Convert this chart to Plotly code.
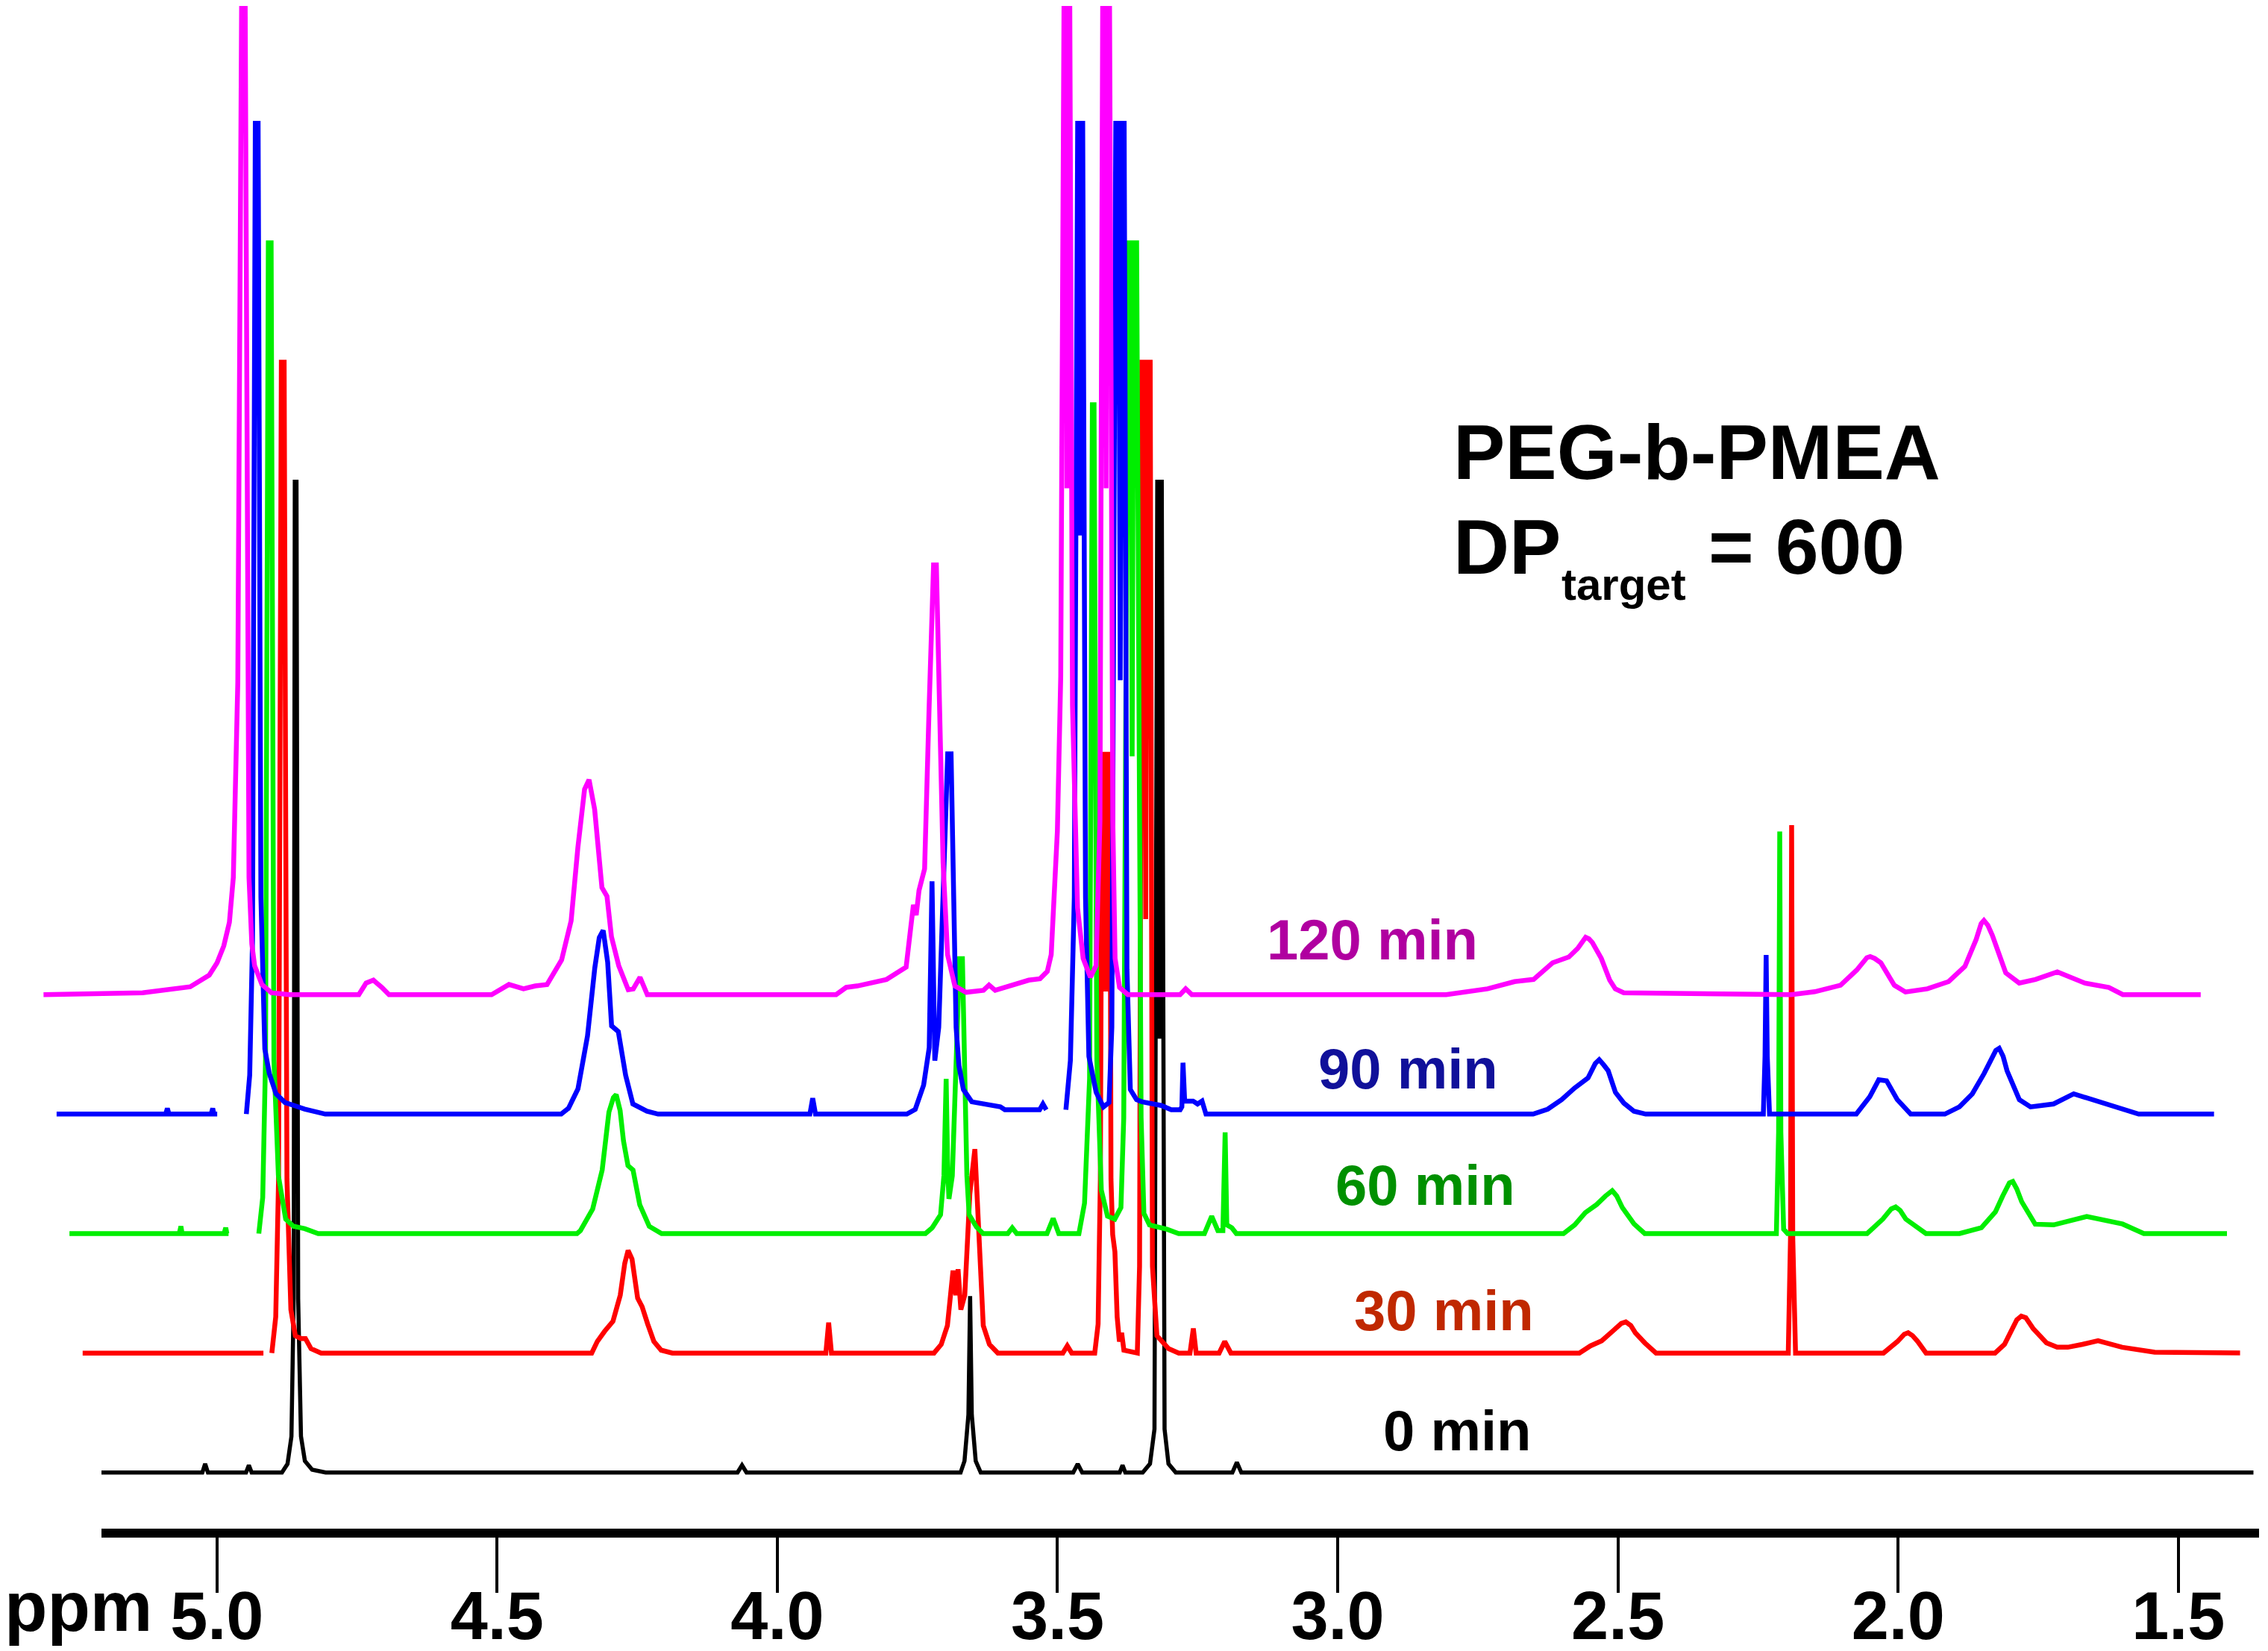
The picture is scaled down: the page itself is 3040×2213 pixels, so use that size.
import plotly.graph_objects as go

# -----------------------------
# Spectra: (ppm, intensity) pairs, (None, None) = gap
# -----------------------------
spec_0min = [
    (5.217, 0), (5.026, 0), (5.021, 6), (5.016, 0), (4.948, 0), (4.943, 5), (4.938, 0),
    (4.884, 0), (4.874, 6), (4.867, 25), (4.863, 120), (4.861, 685), (4.858, 685),
    (4.855, 120), (4.850, 25), (4.843, 8), (4.830, 2), (4.806, 0),
    (4.071, 0), (4.063, 5), (4.055, 0),
    (3.673, 0), (3.666, 8), (3.659, 40), (3.656, 122), (3.653, 40), (3.646, 8), (3.637, 0),
    (3.472, 0), (3.464, 6), (3.456, 0), (3.389, 0), (3.384, 5), (3.379, 0),
    (3.348, 0), (3.335, 6), (3.327, 30), (3.322, 685), (3.319, 685), (3.318, 300),
    (3.317, 685), (3.314, 685), (3.309, 30), (3.302, 6), (3.289, 0),
    (3.188, 0), (3.180, 7), (3.172, 0), (1.366, 0),
]

spec_30min = [
    (5.217, 0), (4.894, 0), (None, None),
    (4.879, 0), (4.872, 25), (4.867, 120), (4.862, 685), (4.857, 685), (4.852, 120),
    (4.845, 30), (4.837, 12), (4.827, 10), (4.819, 10), (4.809, 3), (4.791, 0),
    (4.308, 0), (4.298, 8), (4.285, 15), (4.270, 22), (4.257, 40), (4.249, 62), (4.243, 71),
    (4.236, 65), (4.226, 38), (4.218, 32), (4.208, 20), (4.197, 8), (4.184, 2), (4.164, 0),
    (3.890, 0), (3.885, 21), (3.880, 0),
    (3.697, 0), (3.684, 6), (3.673, 19), (3.663, 57), (3.658, 40), (3.654, 58), (3.649, 30),
    (3.642, 40), (3.633, 110), (3.624, 141), (3.616, 83), (3.609, 19), (3.598, 6), (3.583, 0),
    (3.467, 0), (3.459, 5), (3.451, 0),
    (3.410, 0), (3.404, 20), (3.400, 120), (3.397, 414), (3.393, 414), (3.390, 250),
    (3.387, 414), (3.383, 414), (3.381, 120), (3.378, 82), (3.374, 70), (3.370, 25),
    (3.366, 8), (3.362, 14), (3.358, 2),
    (3.334, 0), (3.330, 60), (3.326, 685), (3.321, 685), (3.319, 300), (3.316, 685),
    (3.311, 685), (3.307, 60), (3.299, 12), (3.289, 8), (3.278, 3), (3.260, 0),
    (3.240, 0), (3.234, 17), (3.229, 0), (3.188, 0), (3.178, 8), (3.167, 0),
    (2.545, 0), (2.525, 5), (2.505, 8.5), (2.483, 16), (2.470, 20.5), (2.462, 21.5),
    (2.453, 19), (2.445, 14), (2.428, 7), (2.408, 0),
    (2.172, 0), (2.168, 80), (2.166, 365), (2.164, 80), (2.159, 0),
    (2.002, 0), (1.977, 8), (1.965, 13), (1.958, 14), (1.950, 12), (1.941, 8), (1.926, 0),
    (1.803, 0), (1.786, 6), (1.764, 23), (1.756, 25.5), (1.748, 24.5), (1.735, 17),
    (1.711, 7), (1.692, 4), (1.673, 4), (1.647, 6), (1.619, 8.5), (1.576, 4), (1.518, 0.6),
    (1.363, 0),
]

spec_60min = [
    (5.217, 0), (5.021, 0), (5.018, 5), (5.016, 0), (4.941, 0), (4.938, 4), (4.936, 0),
    (4.933, 0), (None, None),
    (4.879, 0), (4.872, 25), (4.867, 120), (4.862, 685), (4.857, 685), (4.852, 120),
    (4.844, 40), (4.831, 10), (4.817, 5), (4.797, 3.4), (4.773, 0),
    (4.311, 0), (4.305, 2), (4.283, 17), (4.266, 44), (4.254, 84), (4.246, 94), (4.241, 96),
    (4.234, 85), (4.228, 64), (4.220, 47), (4.211, 44), (4.199, 20), (4.182, 5), (4.160, 0),
    (3.689, 0), (3.677, 4), (3.662, 13), (3.656, 40), (3.652, 107), (3.649, 40), (3.647, 24),
    (3.641, 40), (3.635, 120), (3.628, 190), (3.623, 190), (3.619, 110), (3.615, 40),
    (3.611, 13), (3.598, 4.6), (3.586, 0),
    (3.542, 0), (3.534, 4), (3.526, 0), (3.472, 0), (3.461, 10.5), (3.451, 0),
    (3.415, 0), (3.405, 21), (3.396, 107), (3.391, 573), (3.388, 573), (3.383, 120),
    (3.375, 30), (3.364, 12), (3.351, 10), (3.340, 18), (3.335, 80), (3.327, 685),
    (3.322, 685), (3.320, 330), (3.317, 685), (3.312, 685), (3.304, 80), (3.299, 14),
    (3.289, 6), (3.258, 3), (3.237, 0),
    (3.191, 0), (3.178, 12), (3.167, 2), (3.158, 2), (3.154, 70), (3.151, 6), (3.142, 4),
    (3.134, 0),
    (2.550, 0), (2.530, 6), (2.511, 14.5), (2.491, 20), (2.475, 26), (2.463, 29.7),
    (2.455, 26), (2.445, 18), (2.424, 6.6), (2.405, 0),
    (2.170, 0), (2.166, 70), (2.164, 278), (2.162, 70), (2.157, 3), (2.150, 0),
    (2.008, 0), (1.980, 10), (1.965, 17), (1.957, 18.4), (1.949, 16), (1.939, 10), (1.903, 0),
    (1.843, 0), (1.804, 4), (1.779, 15), (1.766, 26), (1.754, 35), (1.748, 36), (1.741, 31),
    (1.732, 22), (1.708, 6.5), (1.675, 6), (1.616, 11.8), (1.552, 6.6), (1.514, 0),
    (1.364, 0),
]

spec_90min = [
    (5.217, 0), (5.022, 0), (5.019, 4), (5.016, 0), (4.941, 0), (4.938, 4), (4.936, 0),
    (4.930, 0), (None, None),
    (4.878, 0), (4.872, 27), (4.867, 120), (4.862, 685), (4.857, 685), (4.852, 150),
    (4.845, 45), (4.837, 28), (4.825, 14), (4.809, 8), (4.791, 5.7), (4.774, 3.5), (4.737, 0),
    (4.316, 0), (4.303, 4), (4.286, 17.5), (4.269, 54), (4.256, 101), (4.248, 122),
    (4.241, 127), (4.233, 105), (4.226, 61), (4.214, 57), (4.201, 27), (4.188, 7),
    (4.163, 2), (4.143, 0),
    (3.872, 0), (3.867, 11), (3.862, 0),
    (3.699, 0), (3.684, 3.2), (3.669, 20), (3.659, 46), (3.654, 161), (3.651, 60),
    (3.649, 37), (3.642, 60), (3.633, 180), (3.626, 249), (3.620, 249), (3.615, 150),
    (3.611, 60), (3.606, 33.5), (3.598, 17), (3.583, 8.5), (3.532, 5), (3.524, 3),
    (3.462, 3), (3.456, 7), (3.450, 3), (None, None),
    (3.415, 3), (3.407, 37), (3.400, 150), (3.394, 685), (3.391, 685), (3.389, 400),
    (3.388, 685), (3.385, 685), (3.380, 150), (3.374, 40), (3.361, 15), (3.348, 5),
    (3.338, 8), (3.333, 60), (3.326, 685), (3.321, 685), (3.318, 300), (3.315, 685),
    (3.311, 685), (3.306, 100), (3.300, 17), (3.289, 10), (3.279, 8.5), (3.245, 6),
    (3.227, 3), (3.211, 3), (3.208, 5), (3.206, 35.5), (3.203, 9), (3.188, 9), (3.180, 7),
    (3.172, 9), (3.165, 0),
    (2.581, 0), (2.555, 3.4), (2.530, 10), (2.507, 18), (2.483, 25), (2.470, 35),
    (2.463, 37.6), (2.455, 34), (2.447, 30), (2.434, 15), (2.419, 7.6), (2.401, 2),
    (2.380, 0),
    (2.170, 0), (2.167, 40), (2.165, 110), (2.163, 40), (2.159, 0),
    (2.004, 0), (1.980, 12), (1.964, 23.7), (1.950, 23), (1.931, 10), (1.907, 0),
    (1.846, 0), (1.820, 5), (1.797, 14), (1.776, 28), (1.763, 38), (1.755, 44),
    (1.749, 45.5), (1.742, 40), (1.735, 30), (1.713, 10), (1.693, 5), (1.652, 7),
    (1.616, 14), (1.575, 9), (1.539, 5), (1.500, 0), (1.365, 0),
]

spec_120min = [
    (5.217, 0), (5.040, 1.3), (4.955, 5.4), (4.921, 13.5), (4.907, 22), (4.895, 33.7),
    (4.885, 50), (4.878, 81), (4.870, 216), (4.863, 700), (4.857, 700),
    (4.850, 81), (4.845, 35), (4.840, 20), (4.827, 7), (4.810, 1.3), (4.778, 0),
    (4.654, 0), (4.641, 8), (4.628, 10), (4.613, 5), (4.600, 0),
    (4.417, 0), (4.386, 7), (4.360, 4), (4.339, 6),
    (4.318, 7), (4.292, 24), (4.275, 51), (4.263, 101.5), (4.251, 142), (4.243, 148.6),
    (4.233, 128), (4.220, 74), (4.211, 68), (4.203, 40), (4.190, 20), (4.173, 3.4),
    (4.164, 4), (4.152, 12), (4.139, 0),
    (3.802, 0), (3.784, 5), (3.764, 6), (3.712, 10.5), (3.677, 19), (3.664, 62), (3.659, 55),
    (3.654, 72), (3.644, 87), (3.636, 198), (3.628, 297), (3.623, 297), (3.618, 220),
    (3.611, 91), (3.603, 27.6), (3.590, 6), (3.570, 1.6), (3.539, 3), (3.529, 6.6),
    (3.518, 3), (3.458, 10), (3.438, 11), (3.425, 16), (3.418, 27.7), (3.407, 113),
    (3.401, 220), (3.395, 700), (3.391, 700), (3.390, 350), (3.389, 700), (3.385, 700),
    (3.380, 200), (3.371, 60), (3.361, 25), (3.348, 12), (3.338, 20), (3.331, 120),
    (3.326, 700), (3.321, 700), (3.320, 350), (3.319, 700), (3.314, 700), (3.308, 120),
    (3.304, 25), (3.296, 5), (3.281, 0),
    (3.188, 0), (3.178, 4), (3.167, 0),
    (2.713, 0), (2.639, 4), (2.591, 9), (2.557, 10.5), (2.523, 22), (2.494, 26),
    (2.478, 32), (2.470, 37), (2.464, 39.6), (2.458, 38.5), (2.452, 36), (2.436, 25),
    (2.421, 10), (2.411, 4), (2.396, 1.3),
    (2.097, 0), (2.055, 2), (2.009, 6.5), (1.980, 17), (1.962, 25.5), (1.956, 26.3),
    (1.948, 25), (1.937, 22), (1.913, 6.5), (1.893, 1.8), (1.854, 4), (1.816, 9),
    (1.787, 19.5), (1.767, 38), (1.758, 49), (1.753, 51.3), (1.746, 48), (1.738, 41),
    (1.714, 15), (1.690, 8), (1.661, 10.5), (1.622, 15.7), (1.573, 8), (1.530, 5),
    (1.505, 0), (1.366, 0),
]

time_labels = ['0 min', '30 min', '60 min', '90 min', '120 min']
tick_vals = [5.0, 4.5, 4.0, 3.5, 3.0, 2.5, 2.0, 1.5]
tick_text = ['5.0', '4.5', '4.0', '3.5', '3.0', '2.5', '2.0', '1.5']

# -----------------------------
# Styling / geometry (positions given in page pixels; the page body
# adds an 8 px margin, so the figure itself is 8 px smaller)
# -----------------------------
OFF = 8
W, H = 3040 - OFF, 2213 - OFF
STACK = 82.6      # vertical offset between spectra (intensity units)
SKEW = 17.45      # horizontal offset between spectra (px)
ARIAL = 'Liberation Sans, Arial, sans-serif'


def fx(px):
    return (px - OFF) / W


def fy(py):
    return 1 - (py - OFF) / H


spectra = [spec_0min, spec_30min, spec_60min, spec_90min, spec_120min]
line_colors = ['#000000', '#ff0000', '#00ee00', '#0000ff', '#ff00ff']
line_widths = [5.5, 6.5, 6.5, 6.5, 6.5]
label_colors = ['#000000', '#c02800', '#009000', '#10109a', '#b000a0']
# (right edge px, baseline px) of each time label
label_pos = [(2055, 1945), (2058, 1784), (2033, 1616), (2010, 1460), (1983, 1287)]

fig = go.Figure()
layout_axes = {}

for k, pts in enumerate(spectra):
    ppm = [p[0] for p in pts]
    inten = [None if p[1] is None else p[1] + k * STACK for p in pts]
    # 0 min sits on the ppm axis itself, the others are skewed to the left
    name = 'x' if k == 0 else 'x%d' % (k + 1)
    fig.add_trace(go.Scatter(
        x=ppm, y=inten, mode='lines', xaxis=name, yaxis='y',
        line=dict(color=line_colors[k], width=line_widths[k]),
        hoverinfo='skip', showlegend=False,
    ))
    if k > 0:
        layout_axes['xaxis%d' % (k + 1)] = dict(
            domain=[fx(128 - SKEW * k), fx(3020 - SKEW * k)],
            range=[5.217, 1.3655], anchor='y', visible=False, automargin=False,
        )

fig.update_layout(
    template='none',
    width=W, height=H,
    margin=dict(l=0, r=0, t=0, b=0, pad=0),
    paper_bgcolor='white', plot_bgcolor='rgba(0,0,0,0)',
    showlegend=False,
    xaxis=dict(
        domain=[fx(136), fx(3028)], range=[5.206, 1.356], anchor='y',
        showline=True, linewidth=12, linecolor='black',
        ticks='outside', ticklen=74, tickwidth=4, tickcolor='black',
        tickvals=tick_vals, ticktext=tick_text, ticklabelstandoff=-46,
        tickfont=dict(family=ARIAL, size=90, color='black', weight='bold'),
        showgrid=False, zeroline=False, automargin=False,
    ),
    # top of the plot = page y 8, where the 0 min intensity reads 1013.9
    yaxis=dict(domain=[fy(2049), 1], range=[-38.8, 1013.9], anchor='x',
               visible=False, automargin=False),
    **layout_axes,
)


def add_text(text, x, baseline, size, color='black', anchor='left'):
    # place text by its left/right edge and its baseline (page pixels)
    fig.add_annotation(
        text=text, xref='paper', yref='paper', x=fx(x),
        y=fy(baseline - 0.358 * size),
        xanchor=anchor, yanchor='middle', showarrow=False,
        font=dict(family=ARIAL, size=size, color=color, weight='bold'),
    )


for k, text in enumerate(time_labels):
    xr, yb = label_pos[k]
    add_text(text, xr, yb, 76, label_colors[k], anchor='right')

add_text('PEG-b-PMEA', 1946, 643, 104)
add_text('DP', 1946, 770, 104)
add_text('target', 2091, 805, 60)
add_text('= 600', 2288, 770, 104)
add_text('ppm', 4, 2187, 94)

fig.write_html("out.html")
